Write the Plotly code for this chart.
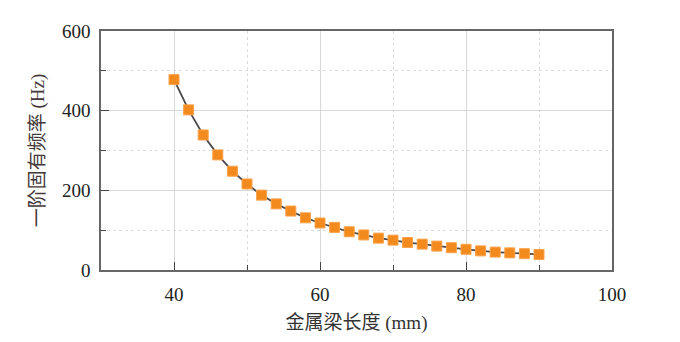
import plotly.graph_objects as go

length_mm = [40, 42, 44, 46, 48, 50, 52, 54, 56, 58, 60, 62, 64, 66, 68, 70,
             72, 74, 76, 78, 80, 82, 84, 86, 88, 90]
freq_hz = [478, 402, 339, 289, 248, 216, 188, 166, 148, 131, 118, 107, 96, 88,
           80, 75, 69, 65, 60, 56, 52, 48, 45, 43, 41, 39]

x_ticks = [40, 60, 80, 100]
y_ticks = [0, 200, 400, 600]
x_minor = [50, 70, 90]
y_minor = [100, 300, 500]

serif = "'Liberation Serif', 'Times New Roman', 'Noto Sans CJK SC', serif"

fig = go.Figure()
fig.add_trace(go.Scatter(
    x=length_mm, y=freq_hz, mode="lines+markers",
    line=dict(color="#4a4a4a", width=1.8),
    marker=dict(symbol="square", size=10, color="#F38A1D",
                line=dict(color="#F9A24A", width=1)),
    showlegend=False,
))

axis_common = dict(
    showline=True, linecolor="#666666", linewidth=1.5, mirror=True,
    ticks="inside", ticklen=8, tickwidth=1.2, tickcolor="#444444",
    showgrid=True, gridcolor="#d8d8d8", gridwidth=1,
    zeroline=False,
    tickfont=dict(family=serif, size=19, color="#222222"),
)

fig.update_xaxes(
    range=[30, 100], tickmode="array", tickvals=x_ticks,
    minor=dict(tickmode="array", tickvals=x_minor, ticks="inside", ticklen=5,
               tickcolor="#444444", showgrid=True, gridcolor="#dcdcdc",
               griddash="dot", gridwidth=1),
    title=dict(text="金属梁长度 (mm)", font=dict(family=serif, size=19, color="#333333"),
               standoff=12),
    ticklabelstandoff=6,
    **axis_common,
)
fig.update_yaxes(
    range=[0, 600], tickmode="array", tickvals=y_ticks,
    minor=dict(tickmode="array", tickvals=y_minor, ticks="inside", ticklen=5,
               tickcolor="#444444", showgrid=True, gridcolor="#dcdcdc",
               griddash="dot", gridwidth=1),
    title=dict(text="一阶固有频率 (Hz)", font=dict(family=serif, size=19, color="#453838"),
               standoff=12),
    ticklabelstandoff=5,
    **axis_common,
)

fig.update_layout(
    width=680, height=342,
    margin=dict(l=101, r=68, t=31, b=66),
    paper_bgcolor="white", plot_bgcolor="white",
)

fig.write_html("out.html")
